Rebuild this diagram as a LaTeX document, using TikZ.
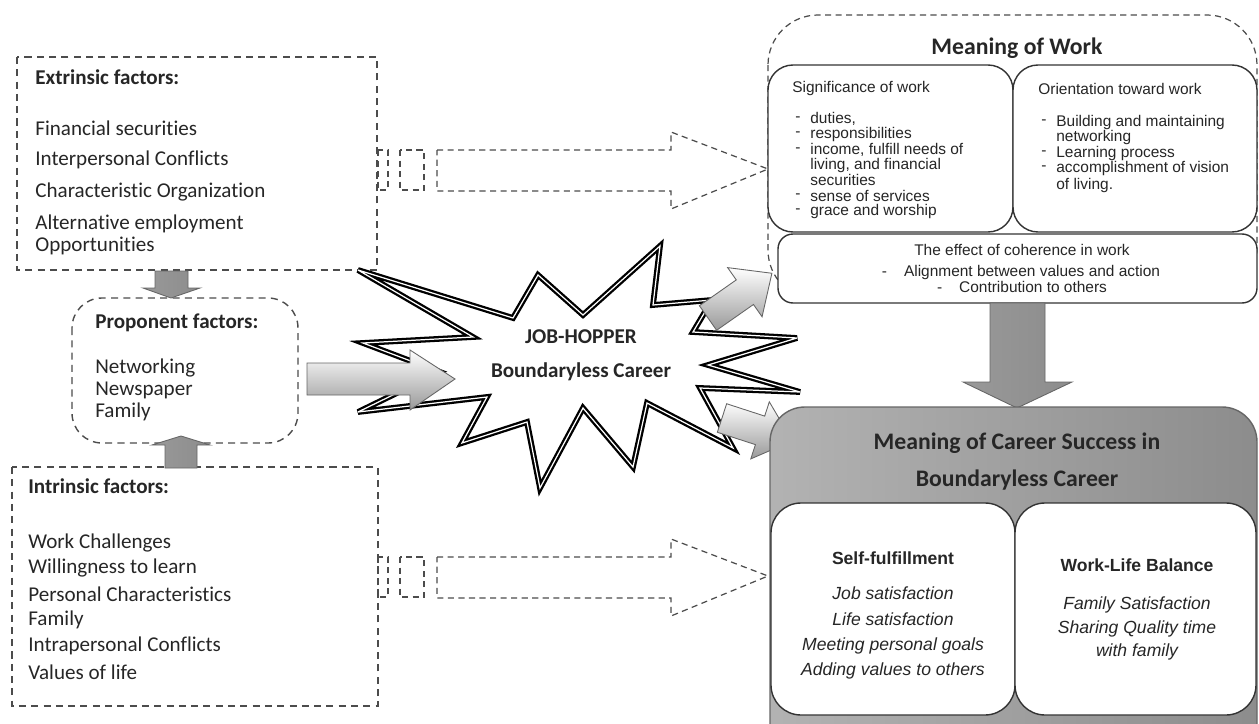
\documentclass[tikz,border=0pt]{standalone}
\usepackage{fontspec}
\setmainfont{Carlito}[Ligatures=NoCommon]
\newfontfamily\arialfont{Liberation Sans}
\usetikzlibrary{positioning, calc}

\tikzset{
	dashbox/.style={draw=black!70, dash pattern=on 4pt off 3pt, line width=0.8pt},
	dashthin/.style={draw=black!70, dash pattern=on 3.5pt off 2.5pt, line width=0.7pt},
	grayarrow/.style={draw=black!60, line width=0.5pt, top color=white, bottom color=black!40},
	vgrayarrow/.style={draw=black!60, line width=0.5pt, left color=black!40, middle color=black!6, right color=black!45},
	roundbox/.style={draw=black!80, line width=0.8pt, fill=white},
	burst/.style={draw=black, line width=1.3pt, double=white, double distance=0.7pt, fill=white, miter limit=5},
	careerbox/.style={draw=black!60, line width=0.8pt, left color=black!30, middle color=black!8, right color=black!45, rounded corners=0.7cm}
}

\begin{document}
\begin{tikzpicture}[x=0.02cm, y=-0.02cm, every node/.style={inner sep=0pt, text=black!85},
	bigtitle/.style={font=\fontsize{13.5}{16}\selectfont\bfseries},
	lefthead/.style={anchor=west, font=\fontsize{12}{14}\selectfont\bfseries},
	lefttext/.style={anchor=west, font=\fontsize{12}{14}\selectfont},
	smalltext/.style={anchor=west, font=\arialfont\fontsize{8.8}{10}\selectfont},
	smallmid/.style={font=\arialfont\fontsize{8.8}{10}\selectfont},
	subhead/.style={font=\arialfont\bfseries\fontsize{10}{12}\selectfont},
	ittext/.style={font=\arialfont\itshape\fontsize{10}{12}\selectfont}]
	
	\useasboundingbox (0,0) rectangle (1259,724);
	\clip (0,0) rectangle (1259,724);
	
	%//left column: extrinsic, proponent, intrinsic
	
	\draw[dashbox] (17,57) rectangle (377,270);
	\node[lefthead] (exthead) at (35,77) {Extrinsic factors:};
	\foreach \y/\txt [count=\i] in {128/Financial securities, 160/Interpersonal Conflicts, 192/Characteristic Organization, 224/Alternative employment, 246/Opportunities}
	\node[lefttext] (ext\i) at (35,\y) {\txt};
	
	\draw[dashbox, rounded corners=0.6cm] (72,298) rectangle (298,443);
	\node[lefthead] (prohead) at (95,323) {Proponent factors:};
	\foreach \y/\txt [count=\i] in {368/Networking, 390/Newspaper, 412/Family}
	\node[lefttext] (pro\i) at (95,\y) {\txt};
	
	\draw[dashbox] (12,467) rectangle (378,706);
	\node[lefthead] (inthead) at (28,486) {Intrinsic factors:};
	\foreach \y/\txt [count=\i] in {543/Work Challenges, 568/Willingness to learn, 594/Personal Characteristics, 620/Family, 646/Intrapersonal Conflicts, 672/Values of life}
	\node[lefttext] (int\i) at (28,\y) {\txt};
	
	% small arrows into the proponent box
	\draw[vgrayarrow] (155,271) -- (188,271) -- (188,288) -- (200,288) -- (171,298) -- (143,288) -- (155,288) -- cycle;
	\draw[vgrayarrow] (165,468) -- (197,468) -- (197,445) -- (210,445) -- (181,436) -- (152,445) -- (165,445) -- cycle;
	
	% dashed block arrows to the right
	\foreach \yc in {170, 577}{
		\draw[dashthin] (378,\yc-20) rectangle (388,\yc+20);
		\draw[dashthin] (400,\yc-20) rectangle (424,\yc+20);
		\draw[dashthin] (437,\yc-20) -- (671,\yc-20) -- (671,\yc-38) -- (768,\yc-1) -- (671,\yc+39) -- (671,\yc+21) -- (437,\yc+21) -- cycle;
	}
	
	%//meaning of work
	
	\draw[dashthin, rounded corners=1cm] (768,15) rectangle (1257,300);
	\node[bigtitle] (work) at (1017,48) {Meaning of Work};
	
	\draw[roundbox, rounded corners=0.5cm] (768,65) rectangle (1013,232);
	\draw[roundbox, rounded corners=0.5cm] (1013,65) rectangle (1257,232);
	
	\node[smalltext] (sig) at (792,88) {Significance of work};
	\foreach \y/\b/\t [count=\i] in {119/-/{duties,}, 134/-/responsibilities, 150/-/{income, fulfill needs of}, 165/{}/{living, and financial}, 180/{}/securities, 196/-/sense of services, 211/-/grace and worship}
	{
		\node[smalltext] (sigd\i) at (795,\y) {\b};
		\node[smalltext] (sigt\i) at (810,\y) {\t};
	}
	
	\node[smalltext] (ori) at (1038,89) {Orientation toward work};
	\foreach \y/\b/\t [count=\i] in {122/-/Building and maintaining, 137/{}/networking, 153/-/Learning process, 168/-/accomplishment of vision, 185/{}/of living.}
	{
		\node[smalltext] (orid\i) at (1041,\y) {\b};
		\node[smalltext] (orit\i) at (1056,\y) {\t};
	}
	
	\draw[roundbox, rounded corners=0.3cm] (778,234) rectangle (1257,303);
	\node[smallmid] (coh) at (1022,250) {The effect of coherence in work};
	\node[smallmid] (coh1) at (1021,272) {-\hspace{1.1em}Alignment between values and action};
	\node[smallmid] (coh2) at (1022,287) {-\hspace{1.1em}Contribution to others};
	
	%//job-hopper burst
	
	\draw[burst] (358,270) -- (513,318) -- (538,275) -- (583,315) -- (660,246) -- (653,305) -- (712,300)
	-- (693,332) -- (797,338) -- (708,365) -- (800,392) -- (700,388) -- (733,448) -- (647,403)
	-- (633,467) -- (583,408) -- (540,488) -- (527,422) -- (462,443) -- (487,397) -- (358,412)
	-- (440,372) -- (363,343) -- (473,337) -- cycle;
	\node[font=\fontsize{12}{14}\selectfont\bfseries] (hopper) at (581,337) {JOB-HOPPER};
	\node[font=\fontsize{12}{14}\selectfont\bfseries] (bless) at (581,372) {Boundaryless Career};
	
	% gray arrows around the burst
	\draw[grayarrow] (307,363) -- (410,363) -- (410,350) -- (455,379) -- (410,410) -- (410,395) -- (307,395) -- cycle;
	
	\begin{scope}[shift={(708,318)}, rotate=35]
		\draw[grayarrow] (0,-15) -- (45,-15) -- (45,-30) -- (78,0) -- (45,30) -- (45,15) -- (0,15) -- cycle;
	\end{scope}
	
	\begin{scope}[shift={(722,418)}, rotate=-18]
		\draw[grayarrow] (0,-15) -- (40,-15) -- (40,-30) -- (74,0) -- (40,30) -- (40,15) -- (0,15) -- cycle;
	\end{scope}
	
	%//career success
	
	\draw[vgrayarrow] (990,303) -- (1045,303) -- (1045,382) -- (1072,382) -- (1017,408) -- (963,382) -- (990,382) -- cycle;
	
	\draw[careerbox] (770,407) rectangle (1257,760);
	\node[bigtitle] (cs1) at (1017,443) {Meaning of Career Success in};
	\node[bigtitle] (cs2) at (1017,480) {Boundaryless Career};
	
	\draw[roundbox, rounded corners=0.6cm] (771,503) rectangle (1015,715);
	\draw[roundbox, rounded corners=0.6cm] (1015,503) rectangle (1256,715);
	
	\node[subhead] (self) at (893,558) {Self-fulfillment};
	\foreach \y/\txt [count=\i] in {593/Job satisfaction, 619/Life satisfaction, 646/Meeting personal goals, 671/Adding values to others}
	\node[ittext] (self\i) at (893,\y) {\txt};
	
	\node[subhead] (wlb) at (1137,565) {Work-Life Balance};
	\foreach \y/\txt [count=\i] in {605/Family Satisfaction, 629/Sharing Quality time, 652/with family}
	\node[ittext] (wlb\i) at (1137,\y) {\txt};
	
\end{tikzpicture}
\end{document}
